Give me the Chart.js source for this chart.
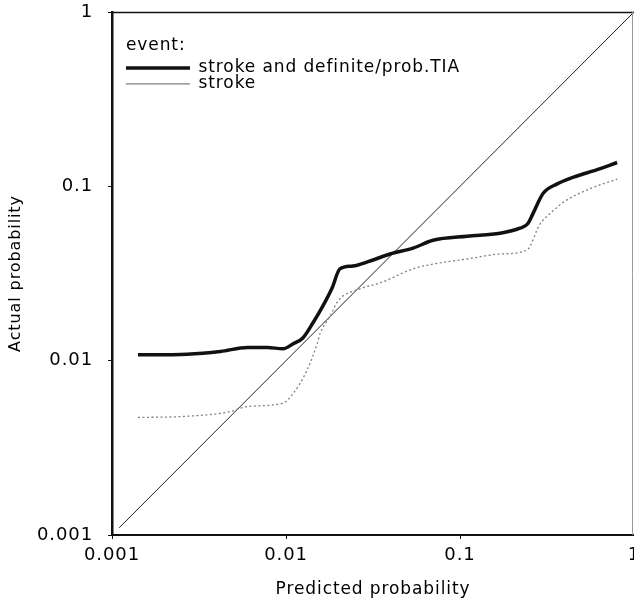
<!DOCTYPE html>
<html>
<head>
<meta charset="utf-8">
<script src="https://cdn.jsdelivr.net/npm/chart.js@4"></script>
<style>
  html, body { margin: 0; padding: 0; background: #fff; overflow: hidden; }
  canvas { display: block; }
</style>
</head>
<body>
<canvas id="c" width="634" height="606"></canvas>
<script>
// ---- data (log-log calibration plot) ----
const tickLabels = ['0.001', '0.01', '0.1', '1'];

const tiaPredicted = [0.00141, 0.0027, 0.0042, 0.0060, 0.0078, 0.0096, 0.011, 0.0125, 0.0143, 0.0163, 0.0184, 0.0204, 0.0242, 0.0304, 0.0396, 0.0537, 0.070, 0.110, 0.170, 0.221, 0.245, 0.263, 0.30, 0.36, 0.45, 0.62, 0.80];
const tiaActual    = [0.0108, 0.0109, 0.0113, 0.0119, 0.0119, 0.0117, 0.0125, 0.0135, 0.0165, 0.0206, 0.0261, 0.0336, 0.0349, 0.0373, 0.0409, 0.0442, 0.0491, 0.0518, 0.0538, 0.0575, 0.061, 0.070, 0.091, 0.103, 0.113, 0.125, 0.137];

const strokePredicted = [0.00141, 0.0027, 0.00477, 0.0060, 0.0096, 0.011, 0.0132, 0.0151, 0.0157, 0.018, 0.0199, 0.0266, 0.0347, 0.0537, 0.070, 0.110, 0.170, 0.242, 0.288, 0.33, 0.40, 0.56, 0.80];
const strokeActual    = [0.00472, 0.0048, 0.0051, 0.00546, 0.0057, 0.0065, 0.0088, 0.0125, 0.0143, 0.0181, 0.022, 0.0258, 0.0279, 0.0336, 0.0358, 0.0383, 0.0409, 0.043, 0.0607, 0.070, 0.082, 0.097, 0.110];

const identityPredicted = [0.0011, 1];
const identityActual    = [0.0011, 1];

const seriesNames = ['stroke and definite/prob.TIA', 'stroke', 'identity'];

const zip = (xs, ys) => xs.map((x, i) => ({ x: x, y: ys[i] }));

const FONT = "'DejaVu Sans', Verdana, sans-serif";
Chart.defaults.font.family = FONT;
Chart.defaults.color = '#000';

const isMajor = v => { const l = Math.log10(v); return Math.abs(l - Math.round(l)) < 1e-6; };
const majorLabel = v => {
  if (!isMajor(v)) return '';
  const idx = Math.round(Math.log10(v)) + 3;
  return tickLabels[idx] !== undefined ? tickLabels[idx] : '';
};

const frame = {
  id: 'frame',
  afterLayout(chart) {
    if (chart.legend) {
      chart.legend.left = chart.chartArea.left + 14;
    }
  },
  beforeDraw(chart) {
    chart.ctx.letterSpacing = '0.9px';
  },
  afterDatasetsDraw(chart) {
    const { ctx, chartArea: a } = chart;
    ctx.save();
    ctx.strokeStyle = '#111';
    ctx.lineWidth = 1.5;
    ctx.beginPath();
    ctx.moveTo(a.left, a.top + 0.5);
    ctx.lineTo(a.right, a.top + 0.5);
    ctx.stroke();
    ctx.strokeStyle = '#999';
    ctx.lineWidth = 1;
    ctx.beginPath();
    ctx.moveTo(a.right - 1.5, a.top);
    ctx.lineTo(a.right - 1.5, a.bottom);
    ctx.stroke();
    ctx.restore();
  }
};

new Chart(document.getElementById('c'), {
  type: 'scatter',
  data: {
    datasets: [
      {
        label: seriesNames[0],
        data: zip(tiaPredicted, tiaActual),
        showLine: true,
        borderColor: '#111',
        backgroundColor: '#111',
        borderWidth: 3.5,
        pointRadius: 0,
        cubicInterpolationMode: 'monotone'
      },
      {
        label: seriesNames[1],
        data: zip(strokePredicted, strokeActual),
        showLine: true,
        borderColor: '#808080',
        backgroundColor: '#808080',
        borderWidth: 1.3,
        borderDash: [2, 2.5],
        pointRadius: 0,
        cubicInterpolationMode: 'monotone'
      },
      {
        label: seriesNames[2],
        data: zip(identityPredicted, identityActual),
        showLine: true,
        borderColor: '#222',
        backgroundColor: '#222',
        borderWidth: 1,
        pointRadius: 0
      }
    ]
  },
  options: {
    responsive: false,
    animation: false,
    devicePixelRatio: 1,
    layout: { padding: 0 },
    plugins: {
      tooltip: { enabled: false },
      legend: {
        position: 'chartArea',
        align: 'start',
        title: {
          display: true,
          text: 'event:',
          position: 'start',
          color: '#000',
          font: { size: 17, family: FONT },
          padding: { top: 37, bottom: 3 }
        },
        labels: {
          filter: item => item.datasetIndex < 2,
          usePointStyle: true,
          pointStyle: 'line',
          pointStyleWidth: 65,
          boxHeight: 17,
          padding: -1,
          color: '#000',
          font: { size: 17, family: FONT }
        }
      }
    },
    scales: {
      x: {
        type: 'logarithmic',
        position: 'bottom',
        min: 0.001,
        max: 1,
        afterFit: s => { s.height = 71; s.paddingLeft = 0; s.paddingRight = 0; },
        border: { display: true, color: '#111', width: 2 },
        grid: {
          display: true,
          drawOnChartArea: false,
          drawTicks: true,
          tickLength: 4,
          tickColor: ctx => isMajor(ctx.tick.value) ? '#111' : 'rgba(0,0,0,0)'
        },
        ticks: {
          autoSkip: false,
          maxRotation: 0,
          padding: 6,
          color: '#000',
          font: { size: 18, family: FONT },
          callback: v => majorLabel(v)
        },
        title: {
          display: true,
          text: 'Predicted probability',
          color: '#000',
          font: { size: 17, family: FONT },
          padding: { top: 0, bottom: 6 }
        }
      },
      y: {
        type: 'logarithmic',
        position: 'left',
        min: 0.001,
        max: 1,
        afterFit: s => { s.width = 112; s.paddingTop = 12; s.paddingBottom = 0; },
        border: { display: true, color: '#111', width: 2.5 },
        grid: {
          display: true,
          drawOnChartArea: false,
          drawTicks: true,
          tickLength: 4,
          tickColor: ctx => isMajor(ctx.tick.value) ? '#111' : 'rgba(0,0,0,0)'
        },
        ticks: {
          autoSkip: false,
          padding: 15,
          color: '#000',
          font: { size: 18, family: FONT },
          callback: v => majorLabel(v)
        },
        title: {
          display: true,
          text: 'Actual probability',
          color: '#000',
          font: { size: 16, family: FONT },
          padding: { top: 6, bottom: 0 }
        }
      }
    }
  },
  plugins: [frame]
});
</script>
</body>
</html>
